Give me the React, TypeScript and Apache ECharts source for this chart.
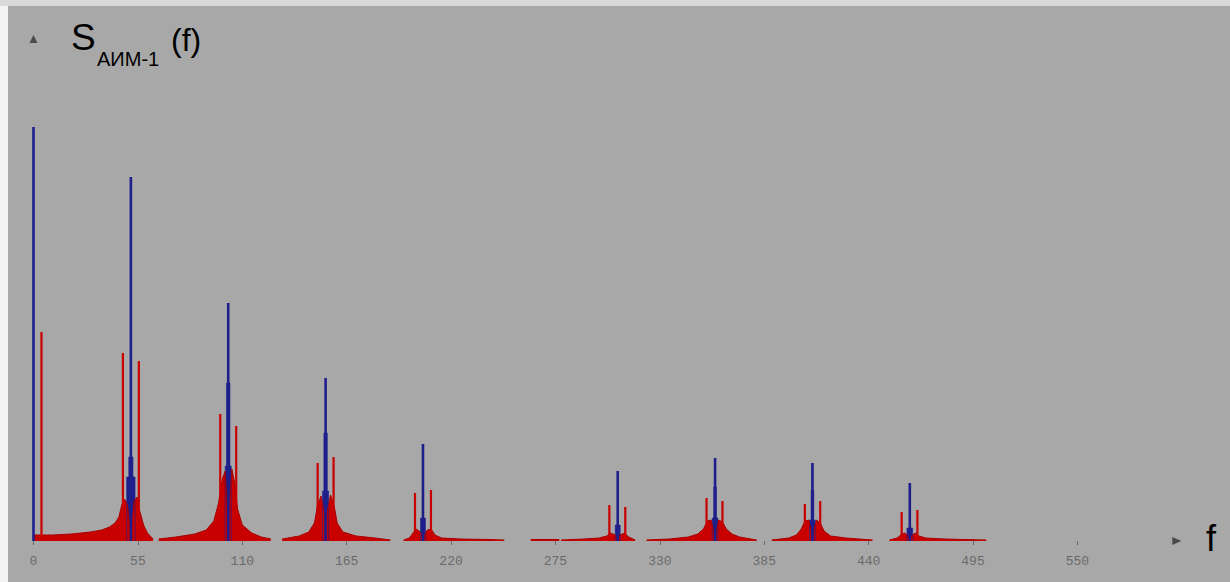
import React, { useEffect, useRef } from "react";
import * as echarts from "echarts";

// ---------- data (f, amplitude) ----------
const xTicks = [0, 55, 110, 165, 220, 275, 330, 385, 440, 495, 550];

const blueSpikes: number[][] = [
  [0, 414], [51.3, 364], [102.6, 238], [153.9, 163], [205.2, 97],
  [307.8, 70], [359.1, 83], [410.4, 78], [461.7, 58],
];

const redSpikes: number[][] = [
  [4.2, 209], [47.1, 188], [55.5, 180], [98.4, 127], [106.8, 115],
  [149.7, 78], [158.1, 84], [201.0, 48], [209.4, 51], [303.4, 36], [311.8, 34],
  [354.6, 43], [363.0, 40], [406.4, 37], [414.5, 40], [457.4, 29], [465.7, 31],
];

const redSkirt0 = [[0, 6], [10, 6], [20, 7], [30, 9], [36, 11], [40, 14], [43, 18], [45, 24], [46.5, 36], [48, 42], [49.5, 36], [50.6, 18], [51.3, 0], [52, 20], [53, 40], [54.5, 44], [56, 30], [58, 16], [60, 8], [63, 2]];
const redSkirt1 = [[66, 2], [75, 4], [85, 7], [91, 11], [95, 20], [97.5, 38], [99.5, 62], [101, 70], [102, 36], [102.6, 0], [103.2, 36], [104.5, 72], [106, 58], [107.5, 32], [110, 16], [115, 8], [120, 4], [125, 2]];
const redSkirt2 = [[131, 2], [140, 5], [145, 9], [148, 18], [149.5, 34], [151.5, 45], [153.2, 28], [153.9, 0], [154.6, 28], [156.5, 46], [158.5, 34], [160, 18], [163, 9], [170, 5], [180, 3], [188, 1]];
const redSkirt3 = [[195, 1], [198, 3], [200, 8], [201.5, 12], [203.2, 10], [204.6, 5], [205.2, 0], [205.8, 5], [207.5, 11], [209.5, 12], [211.5, 6], [215, 3], [225, 2], [240, 1.5], [248, 1]];
const redSkirt4 = [[262, 1.5], [277, 1.5]];
const redSkirt5 = [[278, 1], [290, 2], [298, 3], [302, 5], [304, 8], [306.5, 6], [307.8, 0], [309, 6], [311.5, 8], [313.5, 4], [317, 1]];
const redSkirt6 = [[323, 1], [335, 2], [345, 4], [350, 7], [353, 12], [355, 20], [357, 21], [358.4, 10], [359.1, 0], [359.8, 10], [361, 21], [363, 19], [365, 12], [368, 7], [372, 4], [381, 1]];
const redSkirt7 = [[389, 1], [398, 3], [402, 6], [404.5, 12], [406.5, 20], [408.5, 21], [409.7, 10], [410.4, 0], [411.1, 10], [412.5, 21], [414.5, 18], [416.5, 10], [420, 5], [428, 3], [442, 1]];
const redSkirt8 = [[451, 1], [455, 3], [457, 6], [459, 8], [460.9, 5], [461.7, 0], [462.5, 5], [464.5, 8], [466.5, 5], [470, 3], [480, 2], [490, 1.5], [502, 1]];

const blueCore1 = [[49.1, 0], [49.1, 64], [50.2, 64], [50.2, 84], [52.4, 84], [52.4, 64], [53.5, 64], [53.5, 0]];
const blueCore2 = [[101.0, 0], [101.0, 75], [101.7, 75], [101.7, 158], [103.5, 158], [103.5, 75], [104.2, 75], [104.2, 0]];
const blueCore3 = [[152.3, 0], [152.3, 50], [153.0, 50], [153.0, 108], [154.8, 108], [154.8, 50], [155.5, 50], [155.5, 0]];
const blueCore4 = [[203.9, 0], [203.9, 23], [206.5, 23], [206.5, 0]];
const blueCore5 = [[306.5, 0], [306.5, 16], [309.1, 16], [309.1, 0]];
const blueCore6 = [[357.6, 0], [357.6, 23], [358.4, 23], [358.4, 54], [359.8, 54], [359.8, 23], [360.6, 23], [360.6, 0]];
const blueCore7 = [[408.9, 0], [408.9, 21], [409.7, 21], [409.7, 51], [411.1, 51], [411.1, 21], [411.9, 21], [411.9, 0]];
const blueCore8 = [[460.2, 0], [460.2, 13], [463.2, 13], [463.2, 0]];

// ---------- helpers ----------
const GAP: any = ["-", "-"];
function joinGroups(groups: number[][][]) {
  const out: any[] = [];
  groups.forEach((g, i) => {
    if (i) out.push(GAP);
    g.forEach((p) => out.push(p));
  });
  return out;
}
function spikeSegments(spikes: number[][]) {
  const out: any[] = [];
  spikes.forEach(([f, h], i) => {
    if (i) out.push(GAP);
    out.push([f, 0], [f, h]);
  });
  return out;
}

// ---------- layout ----------
const W = 1230;
const H = 582;
const X0 = 33.5;
const PX_PER_F = 1.898;
const X_MAX = 600;
const BASE_Y = 541;
const Y_MAX = 500;

const RED = "#c80000";
const BLUE = "#1f1f8c";

export default function App() {
  const ref = useRef<HTMLDivElement>(null);

  useEffect(() => {
    if (!ref.current) return;
    const chart = echarts.init(ref.current, undefined, { renderer: "svg" });
    const xEnd = X0 + X_MAX * PX_PER_F;
    const font = '"Liberation Sans", Arial, sans-serif';

    chart.setOption({
      animation: false,
      backgroundColor: "#a8a8a8",
      grid: {
        left: X0,
        top: BASE_Y - Y_MAX,
        width: X_MAX * PX_PER_F,
        height: Y_MAX,
        containLabel: false,
        outerBoundsMode: "none",
      },
      xAxis: {
        type: "value",
        min: 0,
        max: X_MAX,
        interval: 55,
        axisLine: { show: false },
        splitLine: { show: false },
        axisTick: {
          show: true,
          customValues: xTicks,
          length: 4,
          lineStyle: { color: "#6a6a6a", width: 1 },
        },
        axisLabel: {
          customValues: xTicks,
          color: "#6a6a6a",
          fontFamily: '"Liberation Mono", "DejaVu Sans Mono", monospace',
          fontSize: 13,
          margin: 14,
        },
      },
      yAxis: {
        type: "value",
        min: 0,
        max: Y_MAX,
        show: false,
      },
      graphic: [
        { type: "rect", shape: { x: 0, y: 0, width: W, height: 6 }, style: { fill: "#d9d9d9" } },
        { type: "rect", shape: { x: 0, y: 6, width: 8, height: H - 6 }, style: { fill: "#f3f3f3" } },
        {
          type: "polygon",
          shape: { points: [[X0 - 4, 43], [X0 + 4, 43], [X0, 35]] },
          style: { fill: "#4a4a4a" },
        },
        {
          type: "polygon",
          shape: { points: [[xEnd, BASE_Y - 4], [xEnd, BASE_Y + 4], [xEnd + 9, BASE_Y]] },
          style: { fill: "#4a4a4a" },
        },
        {
          type: "text",
          x: 71,
          y: 37,
          style: { text: "S", font: `37px ${font}`, fill: "#000", verticalAlign: "middle" },
        },
        {
          type: "text",
          x: 97,
          y: 59,
          style: { text: "АИМ-1", font: `20px ${font}`, fill: "#000", verticalAlign: "middle" },
        },
        {
          type: "text",
          x: 171,
          y: 40,
          style: { text: "(f)", font: `32px ${font}`, fill: "#000", verticalAlign: "middle" },
        },
        {
          type: "text",
          x: 1206,
          y: 538,
          style: { text: "f", font: `36px ${font}`, fill: "#000", verticalAlign: "middle" },
        },
      ],
      series: [
        {
          name: "core",
          type: "line",
          symbol: "none",
          clip: false,
          data: joinGroups([blueCore1, blueCore2, blueCore3, blueCore4, blueCore5, blueCore6, blueCore7, blueCore8]),
          lineStyle: { color: BLUE, width: 0.6 },
          areaStyle: { color: BLUE, opacity: 1 },
          connectNulls: false,
        },
        {
          name: "skirt",
          type: "line",
          symbol: "none",
          clip: false,
          data: joinGroups([redSkirt0, redSkirt1, redSkirt2, redSkirt3, redSkirt4, redSkirt5, redSkirt6, redSkirt7, redSkirt8]),
          lineStyle: { color: "#a80000", width: 1 },
          areaStyle: { color: RED, opacity: 1 },
          connectNulls: false,
        },
        {
          name: "sidebands",
          type: "line",
          symbol: "none",
          clip: false,
          data: spikeSegments(redSpikes),
          lineStyle: { color: RED, width: 2.2, cap: "butt" },
          connectNulls: false,
        },
        {
          name: "harmonics",
          type: "line",
          symbol: "none",
          clip: false,
          data: spikeSegments(blueSpikes),
          lineStyle: { color: BLUE, width: 2.6, cap: "butt" },
          connectNulls: false,
        },
      ],
    });

    return () => chart.dispose();
  }, []);

  return (
    <div
      ref={ref}
      style={{ position: "fixed", left: 0, top: 0, width: W, height: H }}
    />
  );
}
